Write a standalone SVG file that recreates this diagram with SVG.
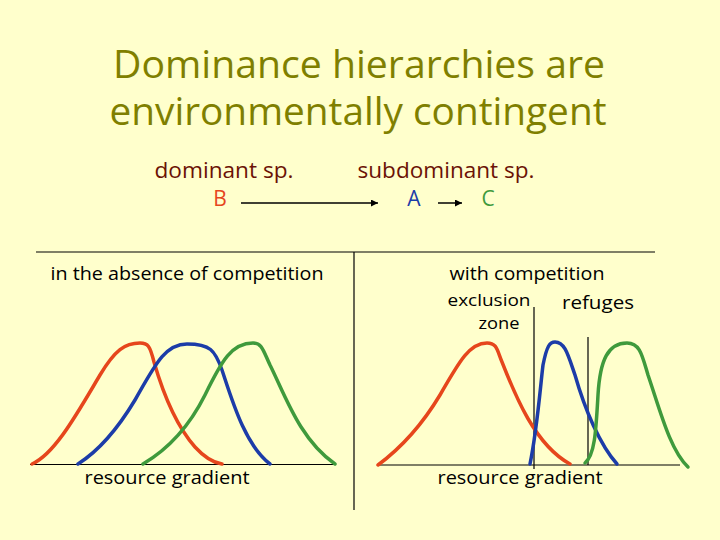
<svg xmlns="http://www.w3.org/2000/svg" width="720" height="540" viewBox="0 0 720 540">
<style>
.t{font-family:"Open Sans","DejaVu Sans",sans-serif}
.title{font-size:38px;fill:#7F7F00}
.lbl{font-size:18px;fill:#000}
.sm{font-size:16px}
.sp{font-size:21px;fill:#6B1205}
.c{fill:none;stroke-width:3.5;stroke-linecap:round;stroke-linejoin:round}
.r{stroke:#E6461C}.b{stroke:#1C3CA8}.g{stroke:#3F9A3C}
.ax{stroke:#000;stroke-width:1.2;fill:none}
</style>
<defs>
<marker id="ah" viewBox="0 0 10 10" refX="10" refY="5" markerWidth="7" markerHeight="7" markerUnits="userSpaceOnUse" orient="auto">
<path d="M0,0 L10,5 L0,10 z" fill="#000"/>
</marker>
</defs>
<rect width="720" height="540" fill="#FFFFCC"/>
<g id="title">
<text class="t title" x="359" y="78" text-anchor="middle" textLength="492" lengthAdjust="spacingAndGlyphs">Dominance hierarchies are</text>
<text class="t title" x="358" y="125" text-anchor="middle" textLength="497" lengthAdjust="spacingAndGlyphs">environmentally contingent</text>
</g>
<g id="header">
<text class="t sp" x="224" y="178" text-anchor="middle" textLength="139" lengthAdjust="spacingAndGlyphs">dominant sp.</text>
<text class="t sp" x="446" y="178" text-anchor="middle" textLength="177" lengthAdjust="spacingAndGlyphs">subdominant sp.</text>
</g>
<g id="nodeB"><text class="t" x="220" y="206" text-anchor="middle" font-size="21" fill="#E6461C">B</text></g>
<g id="nodeA"><text class="t" x="414" y="206" text-anchor="middle" font-size="21" fill="#1C3CA8">A</text></g>
<g id="nodeC"><text class="t" x="488" y="206" text-anchor="middle" font-size="21" fill="#3F9A3C">C</text></g>
<g id="connectors">
<line x1="241" y1="203" x2="378" y2="203" stroke="#000" stroke-width="1.5" marker-end="url(#ah)"/>
<line x1="438" y1="203" x2="462" y2="203" stroke="#000" stroke-width="1.5" marker-end="url(#ah)"/>
</g>
<g id="frame">
<line class="ax" x1="36" y1="252" x2="655" y2="252"/>
<line class="ax" x1="354" y1="252" x2="354" y2="510"/>
</g>
<g id="left-panel">
<text class="t lbl" x="187" y="280" text-anchor="middle" textLength="273" lengthAdjust="spacingAndGlyphs">in the absence of competition</text>
<line class="ax" x1="30" y1="464.5" x2="335" y2="464.5"/>
<path class="c r" d="M32,464 C55,454 78,412 100,375 C115,350 125,343 140,343 C148,343 150,346 154,362 C165,400 180,430 195,447 C205,458 215,463 222,464"/>
<path class="c b" d="M78,464 C100,450 120,425 135,400 C155,365 165,344 187,344 C210,344 215,350 222,370 C232,400 245,445 270,464"/>
<path class="c g" d="M143,464 C170,448 190,425 205,395 C222,360 232,343 253,343 C262,343 263,350 270,365 C285,395 300,440 335,464"/>
<text class="t lbl" x="167" y="484" text-anchor="middle" textLength="165" lengthAdjust="spacingAndGlyphs">resource gradient</text>
</g>
<g id="right-panel">
<text class="t lbl" x="527" y="280" text-anchor="middle" textLength="155" lengthAdjust="spacingAndGlyphs">with competition</text>
<text class="t lbl sm" x="489" y="306" text-anchor="middle" textLength="83" lengthAdjust="spacingAndGlyphs">exclusion</text>
<text class="t lbl sm" x="499" y="329" text-anchor="middle" textLength="41" lengthAdjust="spacingAndGlyphs">zone</text>
<text class="t lbl" x="598" y="309" text-anchor="middle" textLength="72" lengthAdjust="spacingAndGlyphs">refuges</text>
<line class="ax" x1="378" y1="465" x2="680" y2="465"/>
<line class="ax" x1="534" y1="307" x2="534" y2="469"/>
<line class="ax" x1="588" y1="337" x2="588" y2="465"/>
<path class="c r" d="M378,465 C405,445 425,420 440,395 C460,360 470,343 487,343 C497,343 497,350 502,362 C515,395 535,445 570,464"/>
<path class="c b" d="M530,464 C537,430 540,390 543,365 C547,345 550,342 555,342 C565,342 568,355 575,375 C585,410 600,445 617,464"/>
<path class="c g" d="M585,463 C595,455 596,430 598,395 C600,360 608,343 627,343 C640,343 642,355 648,375 C660,410 670,450 688,467"/>
<text class="t lbl" x="520" y="484" text-anchor="middle" textLength="165" lengthAdjust="spacingAndGlyphs">resource gradient</text>
</g>
</svg>
